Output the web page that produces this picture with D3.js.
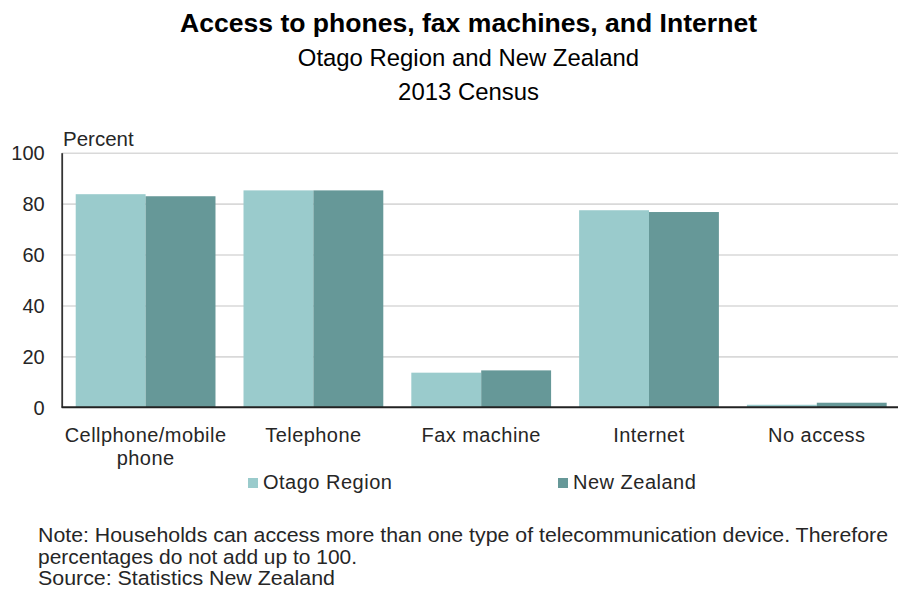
<!DOCTYPE html>
<html>
<head>
<meta charset="utf-8">
<script src="https://cdn.jsdelivr.net/npm/d3@7"></script>
<style>
  html, body { margin: 0; padding: 0; background: #fff; }
  svg { display: block; font-family: "Liberation Sans", Arial, sans-serif; }
</style>
</head>
<body>
<svg id="chart" width="898" height="591"></svg>
<script>
// ---- data ----
const categories = ["Cellphone/mobile phone", "Telephone", "Fax machine", "Internet", "No access"];
const categoryLabelLines = [["Cellphone/mobile", "phone"], ["Telephone"], ["Fax machine"], ["Internet"], ["No access"]];
const seriesNames = ["Otago Region", "New Zealand"];
const otagoValues = [83.7, 85.2, 13.6, 77.4, 1.0];
const nzValues = [82.9, 85.2, 14.5, 76.7, 1.8];
const yTicks = [0, 20, 40, 60, 80, 100];
const titleText = "Access to phones, fax machines, and Internet";
const subtitleLines = ["Otago Region and New Zealand", "2013 Census"];
const yAxisLabel = "Percent";
const noteLines = [
  "Note: Households can access more than one type of telecommunication device. Therefore",
  "percentages do not add up to 100.",
  "Source: Statistics New Zealand"
];

// ---- layout ----
const W = 898, H = 591;
const plot = { left: 61.7, right: 900.7, top: 152.7, bottom: 407.3 };
const colors = { "Otago Region": "#9ACBCC", "New Zealand": "#669898" };
const textColor = "#262626";

const svg = d3.select("#chart");

const x = d3.scaleBand().domain(categories)
  .range([plot.left, plot.right]).paddingInner(0.167).paddingOuter(0.0835);
const xs = d3.scaleBand().domain(seriesNames).range([0, x.bandwidth()]);
const y = d3.scaleLinear().domain([0, 100]).range([plot.bottom, plot.top]);

// titles
svg.append("text").text(titleText)
  .attr("x", 468.5).attr("y", 31.5).attr("text-anchor", "middle")
  .attr("font-size", 26.5).attr("font-weight", "bold").attr("fill", "#000")
  .attr("textLength", 577).attr("lengthAdjust", "spacingAndGlyphs");
subtitleLines.forEach((s, i) => {
  svg.append("text").text(s)
    .attr("x", 468.5).attr("y", 66 + i * 34).attr("text-anchor", "middle")
    .attr("font-size", 23.9).attr("fill", "#000");
});

// gridlines
const grid = svg.append("g").attr("transform", `translate(${plot.left},0)`)
  .call(d3.axisLeft(y).tickValues(yTicks.filter(t => t > 0)).tickSize(-(W - plot.left)).tickFormat(""));
grid.select(".domain").remove();
grid.selectAll("line").attr("stroke", "#d9d9d9").attr("stroke-width", 1.6);

// y axis
const yAxis = svg.append("g").attr("transform", `translate(${plot.left},0)`)
  .call(d3.axisLeft(y).tickValues(yTicks).tickSize(0).tickSizeOuter(0).tickPadding(17));
yAxis.select(".domain").attr("stroke", "#333").attr("stroke-width", 1.8);
yAxis.selectAll("text").attr("font-size", 20).attr("fill", textColor)
  .attr("font-family", "'Liberation Sans', Arial, sans-serif").attr("dy", "0.35em");

svg.append("text").text(yAxisLabel)
  .attr("x", 63).attr("y", 146).attr("font-size", 20.5).attr("fill", textColor);

// bars
const rows = categories.map((c, i) => ({ cat: c, vals: [otagoValues[i], nzValues[i]] }));
const groups = svg.append("g").selectAll("g").data(rows).join("g")
  .attr("transform", d => `translate(${x(d.cat)},0)`);
groups.selectAll("rect")
  .data(d => d.vals.map((v, j) => ({ name: seriesNames[j], v })))
  .join("rect")
  .attr("x", d => xs(d.name))
  .attr("width", xs.bandwidth())
  .attr("y", d => y(d.v))
  .attr("height", d => y(0) - y(d.v))
  .attr("fill", d => colors[d.name]);

// x axis
const xAxis = svg.append("g").attr("transform", `translate(0,${plot.bottom})`)
  .call(d3.axisBottom(x).tickSize(0).tickSizeOuter(0).tickPadding(0));
xAxis.select(".domain").attr("d", `M${plot.left},0H${W}`).attr("stroke", "#222").attr("stroke-width", 2);
xAxis.selectAll(".tick text").each(function(d) {
  const t = d3.select(this);
  const lines = categoryLabelLines[categories.indexOf(d)];
  t.text(null).attr("y", 0).attr("dy", null)
    .attr("font-size", 20).attr("fill", textColor).attr("letter-spacing", 0.45)
    .attr("font-family", "'Liberation Sans', Arial, sans-serif");
  lines.forEach((ln, k) => {
    t.append("tspan").attr("x", 0).attr("y", 35 + k * 23).text(ln);
  });
});

// legend
const legendPos = [{ sx: 248, tx: 263 }, { sx: 558, tx: 573 }];
const legend = svg.append("g").selectAll("g").data(seriesNames).join("g");
legend.append("rect")
  .attr("x", (d, i) => legendPos[i].sx).attr("y", 478)
  .attr("width", 10).attr("height", 10)
  .attr("fill", d => colors[d]);
legend.append("text").text(d => d)
  .attr("x", (d, i) => legendPos[i].tx).attr("y", 488.5)
  .attr("font-size", 20).attr("letter-spacing", 0.5).attr("fill", textColor);

// notes
const noteW = [850, 319, 297];
noteLines.forEach((s, i) => {
  svg.append("text").text(s)
    .attr("x", 38).attr("y", 542 + i * 21.5)
    .attr("font-size", 20.5).attr("fill", textColor)
    .attr("textLength", noteW[i]).attr("lengthAdjust", "spacingAndGlyphs");
});
</script>
</body>
</html>
